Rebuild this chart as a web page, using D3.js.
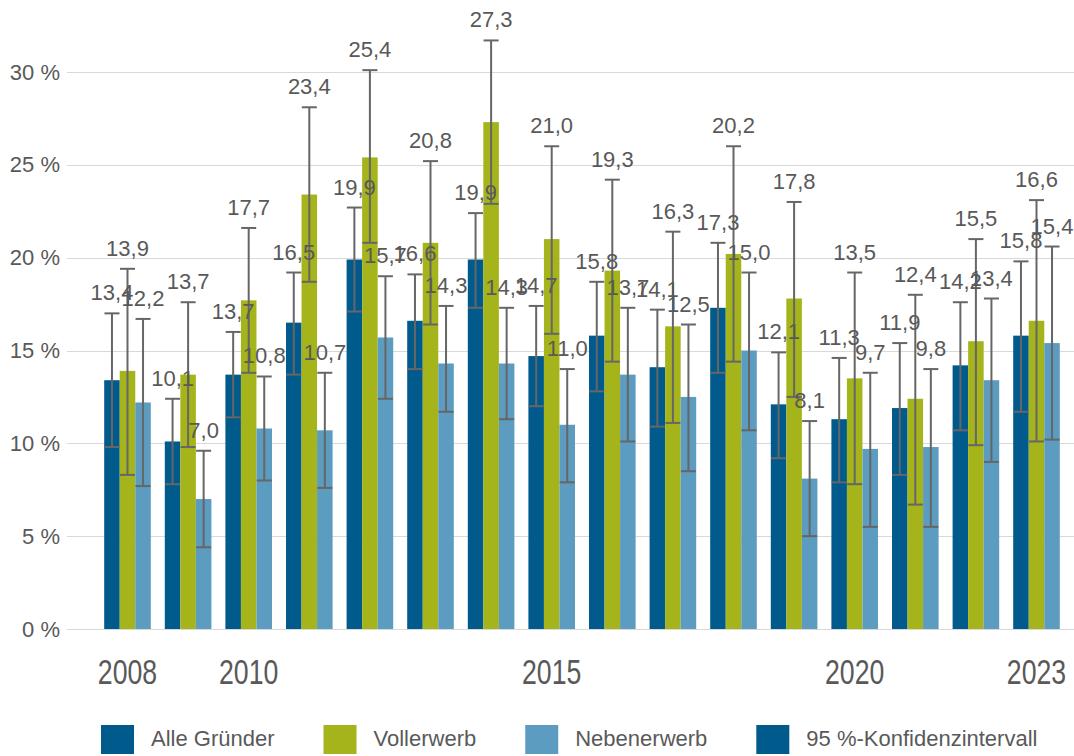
<!DOCTYPE html>
<html>
<head>
<meta charset="utf-8">
<script src="https://cdn.jsdelivr.net/npm/d3@7"></script>
<style>
	body { margin: 0; background: #fff; }
	svg text { font-family: "Liberation Sans", Arial, sans-serif; fill: #595959; }
</style>
</head>
<body>
<svg id="chart" width="1074" height="756"></svg>
<script>

var years = ["2008","2009","2010","2011","2012","2013","2014","2015","2016","2017","2018","2019","2020","2021","2022","2023"];
var yearTicks = ["2008","2010","2015","2020","2023"];
var yTicks = [0, 5, 10, 15, 20, 25, 30];

var series = ["Alle Gründer", "Vollerwerb", "Nebenerwerb"];
var legendNames = ["Alle Gründer", "Vollerwerb", "Nebenerwerb", "95 %-Konfidenzintervall"];
var colors = ["#005a8c", "#a5b41a", "#5b9cc0", "#005a8c"];

// Anteil in %
var alle  = [13.4, 10.1, 13.7, 16.5, 19.9, 16.6, 19.9, 14.7, 15.8, 14.1, 17.3, 12.1, 11.3, 11.9, 14.2, 15.8];
var voll  = [13.9, 13.7, 17.7, 23.4, 25.4, 20.8, 27.3, 21.0, 19.3, 16.3, 20.2, 17.8, 13.5, 12.4, 15.5, 16.6];
var neben = [12.2, 7.0, 10.8, 10.7, 15.7, 14.3, 14.3, 11.0, 13.7, 12.5, 15.0, 8.1, 9.7, 9.8, 13.4, 15.4];

// 95 %-Konfidenzintervall (unten / oben)
var alleLo  = [9.8, 7.8, 11.4, 13.7, 17.1, 14.0, 17.3, 12.0, 12.8, 10.9, 13.8, 9.2, 7.9, 8.3, 10.7, 11.7];
var alleHi  = [17.0, 12.4, 16.0, 19.2, 22.7, 19.1, 22.4, 17.4, 18.7, 17.2, 20.8, 14.9, 14.6, 15.4, 17.6, 19.8];
var vollLo  = [8.3, 9.8, 13.8, 18.7, 20.8, 16.4, 22.9, 15.9, 14.4, 11.1, 14.4, 12.5, 7.8, 6.7, 9.9, 10.1];
var vollHi  = [19.4, 17.6, 21.6, 28.1, 30.1, 25.2, 31.7, 26.0, 24.2, 21.4, 26.0, 23.0, 19.2, 18.0, 21.0, 23.1];
var nebenLo = [7.7, 4.4, 8.0, 7.6, 12.4, 11.7, 11.3, 7.9, 10.1, 8.5, 10.7, 5.0, 5.5, 5.5, 9.0, 10.2];
var nebenHi = [16.7, 9.6, 13.6, 13.8, 19.0, 17.4, 17.3, 14.0, 17.3, 16.4, 19.2, 11.2, 13.8, 14.0, 17.8, 20.6];

var values = [alle, voll, neben],
	lows = [alle, voll, neben].map(function(d, i) { return [alleLo, vollLo, nebenLo][i]; }),
	highs = [alleHi, vollHi, nebenHi];

var fmt = d3.formatLocale({decimal: ",", thousands: ".", grouping: [3], currency: ["", " €"]}).format(".1f");

var svg = d3.select("#chart");

var x0 = d3.scaleBand()
		.domain(years)
		.range([97.2, 1066.8])
		.padding(0);

var x1 = d3.scaleBand()
		.domain(series)
		.range([7, 53.6])
		.padding(0);

var y = d3.scaleLinear()
		.domain([0, 30])
		.range([629, 72]);

// gridlines
svg.append("g")
	.selectAll("line")
	.data(yTicks)
	.enter()
	.append("line")
	.attr("x1", 67)
	.attr("x2", 1074)
	.attr("y1", function(d) { return Math.round(y(d)) + 0.5; })
	.attr("y2", function(d) { return Math.round(y(d)) + 0.5; })
	.attr("stroke", "#d9d9d9")
	.attr("stroke-width", 1.2);

// y axis labels
var yAxis = svg.append("g")
	.attr("transform", "translate(60,0)")
	.call(d3.axisLeft(y).tickValues(yTicks).tickSize(0).tickPadding(0)
		.tickFormat(function(d) { return d + " %"; }));
yAxis.select(".domain").remove();
yAxis.selectAll("text")
	.style("font-size", "22px")
	.attr("fill", "#595959");

// rows of data
var rows = years.map(function(yr, i) {
	return series.map(function(s, j) {
		return { year: yr, key: s, idx: j, v: values[j][i], lo: lows[j][i], hi: highs[j][i] };
	});
});

var groups = svg.append("g")
	.selectAll(".group")
	.data(rows)
	.enter()
	.append("g")
	.attr("class", "group")
	.attr("transform", function(d) { return "translate(" + x0(d[0].year) + ",0)"; });

groups.selectAll("rect")
	.data(function(d) { return d; })
	.enter()
	.append("rect")
	.attr("x", function(d) { return x1(d.key); })
	.attr("width", x1.bandwidth())
	.attr("y", function(d) { return y(d.v); })
	.attr("height", function(d) { return y(0) - y(d.v); })
	.attr("fill", function(d) { return colors[d.idx]; });

// error bars
var err = groups.selectAll(".err")
	.data(function(d) { return d; })
	.enter()
	.append("g")
	.attr("class", "err")
	.attr("stroke", "#666666")
	.attr("stroke-width", 2);

function cx(d) { return x1(d.key) + x1.bandwidth() / 2; }

err.append("line")
	.attr("x1", cx).attr("x2", cx)
	.attr("y1", function(d) { return y(d.lo); })
	.attr("y2", function(d) { return y(d.hi); });
err.append("line")
	.attr("x1", function(d) { return cx(d) - 7.5; })
	.attr("x2", function(d) { return cx(d) + 7.5; })
	.attr("y1", function(d) { return y(d.hi); })
	.attr("y2", function(d) { return y(d.hi); });
err.append("line")
	.attr("x1", function(d) { return cx(d) - 7.5; })
	.attr("x2", function(d) { return cx(d) + 7.5; })
	.attr("y1", function(d) { return y(d.lo); })
	.attr("y2", function(d) { return y(d.lo); });

// value labels
groups.selectAll(".lbl")
	.data(function(d) { return d; })
	.enter()
	.append("text")
	.attr("class", "lbl")
	.attr("x", cx)
	.attr("y", function(d) { return y(d.hi) - 13; })
	.attr("text-anchor", "middle")
	.style("font-size", "22px")
	.text(function(d) { return fmt(d.v); });

// x axis (years)
var xAxis = svg.append("g")
	.attr("transform", "translate(0,684)")
	.call(d3.axisBottom(x0).tickValues(yearTicks).tickSize(0));
xAxis.select(".domain").remove();
xAxis.selectAll("text")
	.attr("y", 0)
	.attr("dy", null)
	.attr("transform", "scale(0.92,1.18)")
	.style("font-size", "29px")
	.attr("fill", "#595959");
xAxis.selectAll(".tick")
	.attr("transform", function(d) { return "translate(" + (x0(d) + x0.bandwidth() / 2) + ",0)"; });

// legend
var legend = svg.append("g").attr("transform", "translate(101,725)");
var lx = 0;
legendNames.forEach(function(name, i) {
	var item = legend.append("g").attr("transform", "translate(" + lx + ",0)");
	item.append("rect")
		.attr("width", 33)
		.attr("height", 29)
		.attr("fill", colors[i]);
	var t = item.append("text")
		.attr("x", 50)
		.attr("y", 21)
		.style("font-size", "22px")
		.text(name);
	lx += 50 + t.node().getComputedTextLength() + 49;
});

</script>
</body>
</html>
